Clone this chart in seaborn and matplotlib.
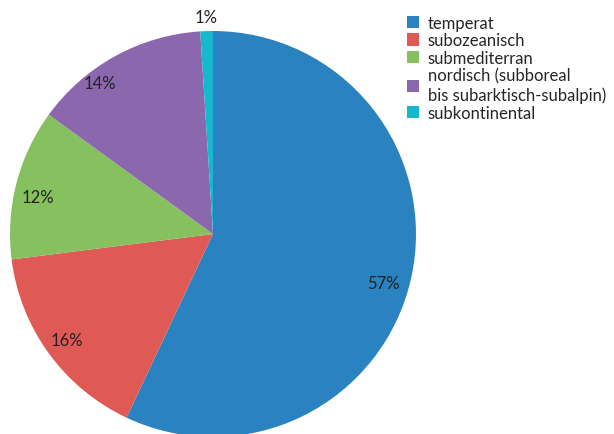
import matplotlib
matplotlib.use("Agg")
import matplotlib.pyplot as plt
import seaborn as sns
import numpy as np
from matplotlib.patches import Patch

categories = ["temperat", "subozeanisch", "submediterran",
              "nordisch (subboreal\nbis subarktisch-subalpin)", "subkontinental"]
values = [57, 16, 12, 14, 1]
colors = ["#2a82c0", "#e05a55", "#87c05e", "#8b67ad", "#17b8cd"]

# label placement (style only)
label_dist = [0.875, 0.89, 0.88, 0.93, 1.07]
label_angle_shift = [-3.5, 0, 2.5, 8, 0]

sns.set_theme(style="white")
plt.rcParams["font.family"] = ["Lato", "DejaVu Sans"]

fig = plt.figure(figsize=(6.14, 4.35), dpi=100)
ax = fig.add_axes([10/614, (435-235-203)/435, 406/614, 406/435])

wedges, texts, autotexts = ax.pie(
    values, colors=colors, startangle=90, counterclock=False,
    autopct="%d%%", pctdistance=0.88,
    wedgeprops=dict(linewidth=0),
    textprops=dict(fontsize=12, color="#222222"))
for w, t, d, s in zip(wedges, autotexts, label_dist, label_angle_shift):
    ang = np.deg2rad((w.theta1 + w.theta2) / 2 + s)
    t.set_position((d * np.cos(ang), d * np.sin(ang)))
ax.set_aspect("equal")
ax.set_xlim(-1, 1)
ax.set_ylim(-1, 1)
ax.axis("off")

handles = [Patch(facecolor=c, edgecolor="none") for c in colors]
fig.legend(handles, categories, loc="upper left",
           bbox_to_anchor=(400/614, 1 - 9/435), frameon=False,
           fontsize=12, handlelength=0.75, handleheight=0.75,
           handletextpad=0.5, labelspacing=0.1, borderaxespad=0)

fig.savefig("out.png", dpi=100)
